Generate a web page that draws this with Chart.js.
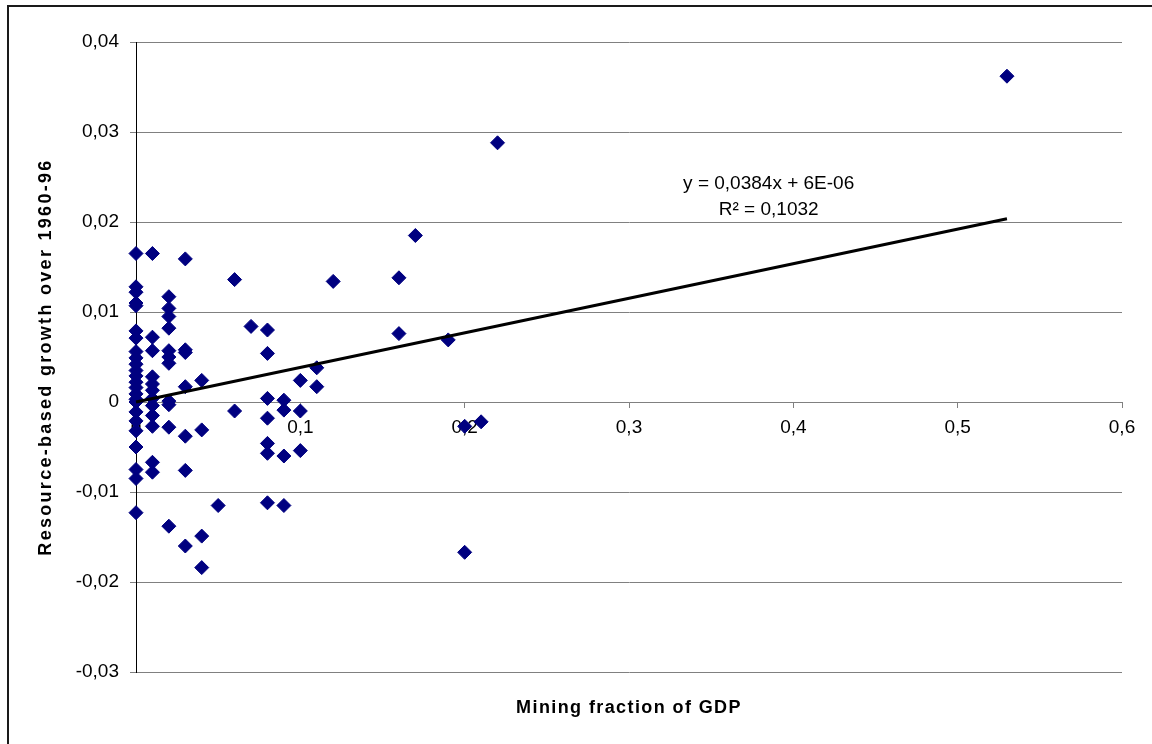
<!DOCTYPE html>
<html>
<head>
<meta charset="utf-8">
<script src="https://cdn.jsdelivr.net/npm/chart.js@4/dist/chart.umd.min.js"></script>
<style>
  html, body { margin: 0; padding: 0; background: #ffffff; }
  #wrap { width: 1152px; height: 744px; position: relative; }
</style>
</head>
<body>
<div id="wrap"><canvas id="c"></canvas></div>
<script>
// ---- data ----
const miningFraction = [
  0,0,0,0,0,0,0,0,0,0,0,0,0,0,0,0,0,0,0,0,0,0,0,0,
  0.01,0.01,0.01,0.01,0.01,0.01,0.01,0.01,0.01,0.01,0.01,0.01,
  0.02,0.02,0.02,0.02,0.02,0.02,0.02,0.02,0.02,0.02,0.02,
  0.03,0.03,0.03,0.03,0.03,0.03,0.03,
  0.04,0.04,0.04,0.04,
  0.05,
  0.06,0.06,
  0.07,
  0.08,0.08,0.08,0.08,0.08,0.08,0.08,
  0.09,0.09,0.09,0.09,
  0.10,0.10,0.10,
  0.11,0.11,
  0.12,
  0.16,0.16,
  0.17,
  0.19,
  0.20,0.20,
  0.21,
  0.22,
  0.53
];
const resourceGrowth = [
  0.0165,0.0128,0.0122,0.0110,0.0107,0.0079,0.0071,0.0056,0.0049,0.0042,0.0035,0.0029,0.0022,0.0016,0.0009,0.0003,0.0000,-0.0011,-0.0021,-0.0032,-0.0050,-0.0075,-0.0085,-0.0123,
  0.0165,0.0072,0.0057,0.0028,0.0020,0.0013,0.0004,-0.0004,-0.0015,-0.0027,-0.0067,-0.0078,
  0.0117,0.0104,0.0095,0.0082,0.0057,0.0050,0.0043,0.0001,-0.0003,-0.0028,-0.0138,
  0.0159,0.0058,0.0055,0.0017,-0.0038,-0.0076,-0.0160,
  0.0024,-0.0031,-0.0149,-0.0184,
  -0.0115,
  0.0136,-0.0010,
  0.0084,
  0.0080,0.0054,0.0004,-0.0018,-0.0046,-0.0057,-0.0112,
  0.0002,-0.0009,-0.0060,-0.0115,
  0.0024,-0.0010,-0.0054,
  0.0038,0.0017,
  0.0134,
  0.0138,0.0076,
  0.0185,
  0.0069,
  -0.0027,-0.0167,
  -0.0022,
  0.0288,
  0.0362
];
const trendSlope = 0.0384;
const trendIntercept = 0.000006;
const trendXRange = [0, 0.53];
const xTickValues = [0, 0.1, 0.2, 0.3, 0.4, 0.5, 0.6];
const yTickValues = [-0.03, -0.02, -0.01, 0, 0.01, 0.02, 0.03, 0.04];
const xAxisTitle = 'Mining fraction of GDP';
const yAxisTitle = 'Resource-based growth over 1960-96';
const equationLines = ['y = 0,0384x + 6E-06', 'R\u00B2 = 0,1032'];

// ---- build chart ----
const scatterPoints = miningFraction.map((x, i) => ({ x: x, y: resourceGrowth[i] }));
const trendPoints = trendXRange.map(x => ({ x: x, y: trendSlope * x + trendIntercept }));

function fmt(v, d) {
  const r = Math.round(v * Math.pow(10, d)) / Math.pow(10, d);
  if (r === 0) return '0';
  return String(r).replace('.', ',');
}

const FONT = '"Liberation Sans", Arial, sans-serif';

const decorPlugin = {
  id: 'decor',
  beforeDraw(chart) {
    const ctx = chart.ctx;
    ctx.save();
    ctx.fillStyle = '#ffffff';
    ctx.fillRect(0, 0, chart.width, chart.height);
    ctx.restore();
  },
  afterDraw(chart) {
    const ctx = chart.ctx;
    const ca = chart.chartArea;
    const xs = chart.scales.x;
    ctx.save();
    // outer frame
    ctx.strokeStyle = '#1a1a1a';
    ctx.lineWidth = 2;
    ctx.strokeRect(8, 6, 1300, 900);
    // x axis title
    ctx.fillStyle = '#000000';
    ctx.font = 'bold 18px ' + FONT;
    try { ctx.letterSpacing = '1.4px'; } catch (e) {}
    ctx.textAlign = 'center';
    ctx.textBaseline = 'alphabetic';
    ctx.fillText(xAxisTitle, (ca.left + ca.right) / 2, 713);
    // y axis title
    try { ctx.letterSpacing = '2.3px'; } catch (e) {}
    ctx.save();
    ctx.translate(51, (ca.top + ca.bottom) / 2);
    ctx.rotate(-Math.PI / 2);
    ctx.fillText(yAxisTitle, 0, 0);
    ctx.restore();
    try { ctx.letterSpacing = '0px'; } catch (e) {}
    // equation
    ctx.font = '19px ' + FONT;
    ctx.textAlign = 'center';
    const ex = xs.getPixelForValue(0.385);
    ctx.fillText(equationLines[0], ex, 189);
    ctx.fillText(equationLines[1], ex, 215);
    ctx.restore();
  }
};

new Chart(document.getElementById('c'), {
  type: 'scatter',
  data: {
    datasets: [
      {
        type: 'line',
        data: trendPoints,
        borderColor: '#000000',
        borderWidth: 3,
        pointRadius: 0,
        fill: false,
        clip: false,
        order: 0
      },
      {
        data: scatterPoints,
        pointStyle: 'rectRot',
        pointRadius: 7,
        pointHoverRadius: 7,
        backgroundColor: '#000080',
        borderColor: '#000080',
        borderWidth: 1,
        clip: false,
        order: 1
      }
    ]
  },
  options: {
    responsive: true,
    maintainAspectRatio: false,
    animation: false,
    events: [],
    layout: { padding: { left: 0, top: 42, right: 30, bottom: 72 } },
    plugins: { legend: { display: false }, tooltip: { enabled: false } },
    scales: {
      x: {
        type: 'linear',
        position: { y: 0 },
        min: 0, max: 0.6,
        afterBuildTicks(scale) { scale.ticks = xTickValues.map(v => ({ value: v })); },
        ticks: {
          callback: v => fmt(v, 1),
          color: '#000000',
          font: { family: FONT, size: 19 },
          padding: 9,
          maxRotation: 0,
          autoSkip: false
        },
        grid: { drawOnChartArea: false, drawTicks: true, tickLength: 5, color: '#808080' },
        border: { display: true, color: '#808080', width: 1 }
      },
      y: {
        type: 'linear',
        position: 'left',
        min: -0.03, max: 0.04,
        afterBuildTicks(scale) { scale.ticks = yTickValues.map(v => ({ value: v })); },
        afterFit(scale) { scale.width = 136; },
        ticks: {
          callback: v => fmt(v, 2),
          color: '#000000',
          font: { family: FONT, size: 19 },
          padding: 11,
          autoSkip: false
        },
        grid: { color: '#808080', lineWidth: 1, drawTicks: true, tickLength: 6 },
        border: { display: true, color: '#000000', width: 1 }
      }
    }
  },
  plugins: [decorPlugin]
});
</script>
</body>
</html>
